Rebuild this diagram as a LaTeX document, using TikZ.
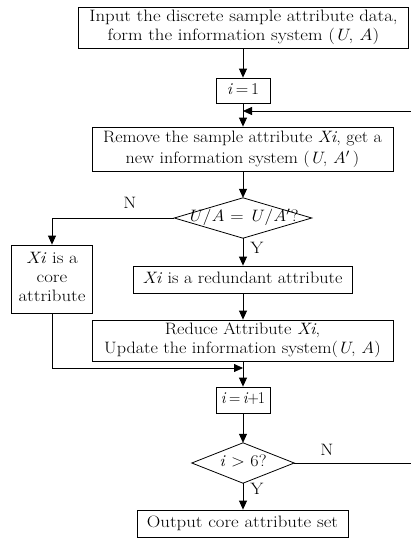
\RequirePackage{fix-cm}
\documentclass[tikz,border=0pt]{standalone}
\usepackage{graphicx}
\usetikzlibrary{arrows.meta}
\newcommand{\hs}[2][1.14]{\scalebox{#1}[1]{\begin{tabular}{@{}c@{}}#2\end{tabular}}}
\begin{document}
\begin{tikzpicture}[x=1pt,y=1pt,
  font=\fontsize{16.5}{19}\selectfont,
  box/.style={draw, line width=0.8pt, inner sep=0pt, align=center},
  dia/.style={inner sep=0pt, align=center},
  conn/.style={line width=0.8pt, -{Triangle[length=9pt,width=8pt]}},
  plain/.style={line width=0.8pt},
  lbl/.style={inner sep=0pt}]
\useasboundingbox (0,0) rectangle (411,-539);
\node[box, minimum width=330pt, minimum height=41pt] (in) at (243.5,-27.5)
  {\hs{Input the discrete sample attribute data,\\ form the information system (\textit{U}, \textit{A})}};
\node[box, minimum width=54pt, minimum height=25pt] (i1) at (243,-90.5) {\hs[1.05]{\textit{i}\,=\,1}};
\node[box, minimum width=301pt, minimum height=44pt] (rm) at (242.5,-149)
  {\hs[1.09]{Remove the sample attribute \textit{Xi}, get a\\[2pt] new information system (\textit{U}, \textit{A}$'$\,)}};
\node[dia, minimum width=137pt, minimum height=40pt] (d1) at (243,-218) {\hs[1.12]{\textit{U}/\textit{A} = \textit{U}/\textit{A}$'$?}};
\draw[plain] (d1.west) -- (d1.north) -- (d1.east) -- (d1.south) -- cycle;
\node[box, minimum width=81pt, minimum height=68pt] (core) at (52,-279) {\hs{\textit{Xi} is a\\ core\\ attribute}};
\node[box, minimum width=219pt, minimum height=27pt] (red) at (242.5,-279.5) {\hs[1.1]{\textit{Xi} is a redundant attribute}};
\node[box, minimum width=301pt, minimum height=41pt] (rd) at (242.5,-340.5)
  {\hs[1.1]{Reduce Attribute \textit{Xi},\\ Update the information system(\textit{U}, \textit{A})}};
\node[box, minimum width=54pt, minimum height=26pt] (inc) at (243,-400) {\hs[0.95]{\textit{i}\,=\,\textit{i}\hspace{-1pt}+\hspace{-1pt}1}};
\node[dia, minimum width=102pt, minimum height=40pt] (d2) at (243,-463) {\hs[1.1]{\textit{i} $>$ 6?}};
\draw[plain] (d2.west) -- (d2.north) -- (d2.east) -- (d2.south) -- cycle;
\node[box, minimum width=211pt, minimum height=27pt] (out) at (242.5,-523.5) {\hs{Output core attribute set}};
\coordinate (loopin) at (243,-111);
\coordinate (merge) at (243,-368);
\coordinate (far) at (414,-463);
\coordinate (far2) at (414,-111);
\node[lbl] (n1) at (130,-205) {\hs{N}};
\node[lbl] (y1) at (257,-250) {\hs{Y}};
\node[lbl] (n2) at (327,-452) {\hs{N}};
\node[lbl] (y2) at (257,-491) {\hs{Y}};
\draw[conn] (in.south -| i1) -- (i1);
\draw[conn] (i1) -- (i1 |- rm.north);
\draw[conn] (rm.south -| d1) -- (d1.north);
\draw[conn] (d1.west) -| (core);
\draw[conn] (d1.south) -- (d1.south |- red.north);
\draw[conn] (red.south -| d1) -- (rd.north -| d1);
\draw[conn] (core) |- (merge);
\draw[conn] (rd.south -| inc) -- (inc);
\draw[conn] (inc) -- (d2.north);
\draw[conn] (d2.south) -- (d2.south |- out.north);
\draw[conn] (d2.east) -- (far) -- (far2) -- (loopin);
\end{tikzpicture}
\end{document}
